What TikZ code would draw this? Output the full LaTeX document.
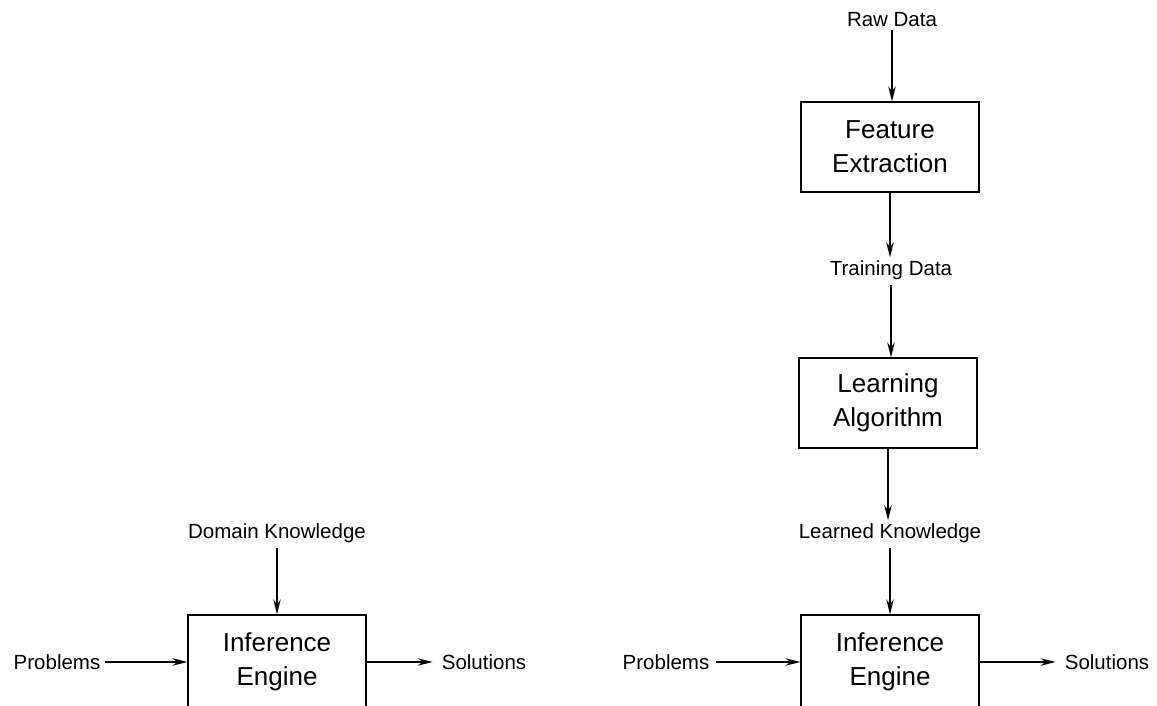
\documentclass[tikz,border=0pt]{standalone}
\usepackage{fontspec}
\setmainfont{Liberation Sans}
\usetikzlibrary{arrows.meta}
\begin{document}
\begin{tikzpicture}[x=1pt,y=-1pt,
  box/.style={draw, line width=1.3pt, minimum width=178pt, minimum height=90pt, align=center, inner sep=0pt, font=\fontsize{26}{34}\selectfont},
  lowbox/.style={box, minimum height=94pt},
  lbl/.style={inner sep=1pt, font=\fontsize{20.5}{24}\selectfont},
  arr/.style={line width=1.3pt, -{Stealth[length=15pt,width=7.5pt]}}]
\useasboundingbox (0,0) rectangle (1157,705);
\fill[white] (0,0) rectangle (1157,705);
\clip (0,0) rectangle (1157,705);
% right column
\node[lbl] (raw) at (892,20) {Raw Data};
\node[box] (fe) at (890,147) {Feature\\Extraction};
\node[lbl] (train) at (891,270) {Training Data};
\node[box] (la) at (888,403) {Learning\\Algorithm};
\node[lbl] (lk) at (890,533) {Learned Knowledge};
\node[lowbox] (ie2) at (890,662) {Inference\\Engine};
\node[lbl] (prob2) at (666,662) {Problems};
\node[lbl] (sol2) at (1107,662) {Solutions};
% left column
\node[lbl] (dk) at (277,533) {Domain Knowledge};
\node[lowbox] (ie1) at (277,662) {Inference\\Engine};
\node[lbl] (prob1) at (57,662) {Problems};
\node[lbl] (sol1) at (484,662) {Solutions};
% connectors
\draw[arr, shorten <=2pt] (raw.south) -- (raw.south |- fe.north);
\draw[arr, shorten >=2pt] (fe.south) -- (fe.south |- train.north);
\draw[arr, shorten <=4pt] (train.south) -- (train.south |- la.north);
\draw[arr, shorten >=2pt] (la.south) -- (la.south |- lk.north);
\draw[arr, shorten <=4pt] (lk.south) -- (lk.south |- ie2.north);
\draw[arr, shorten <=6pt] (prob2.east) -- (prob2.east -| ie2.west);
\draw[arr, shorten >=8pt] (ie2.east |- sol2.west) -- (sol2.west);
\draw[arr, shorten <=4pt] (dk.south) -- (dk.south |- ie1.north);
\draw[arr, shorten <=4pt] (prob1.east) -- (prob1.east -| ie1.west);
\draw[arr, shorten >=8pt] (ie1.east |- sol1.west) -- (sol1.west);
\end{tikzpicture}
\end{document}
